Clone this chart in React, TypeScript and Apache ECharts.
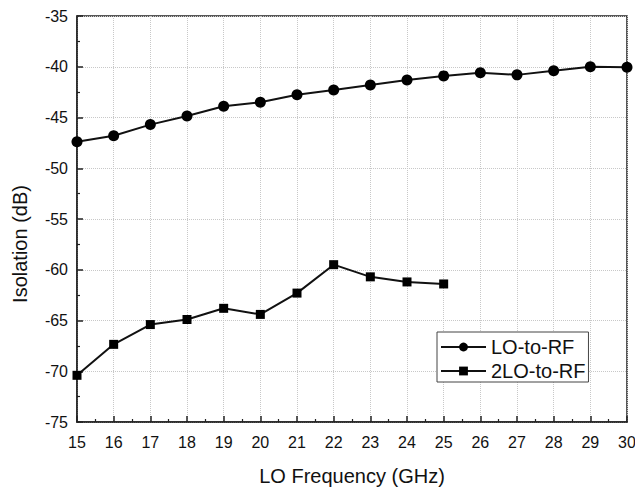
import React, { useEffect, useRef } from "react";
import * as echarts from "echarts";

const freqs = [15, 16, 17, 18, 19, 20, 21, 22, 23, 24, 25, 26, 27, 28, 29, 30];
const loToRf = [-47.4, -46.8, -45.7, -44.85, -43.9, -43.5, -42.75, -42.3, -41.8, -41.3, -40.9, -40.6, -40.8, -40.4, -40.0, -40.05];
const freqs2 = [15, 16, 17, 18, 19, 20, 21, 22, 23, 24, 25];
const twoLoToRf = [-70.4, -67.35, -65.4, -64.9, -63.8, -64.4, -62.3, -59.5, -60.7, -61.2, -61.4];

const FONT = "'Liberation Sans', Arial, sans-serif";

export default function App() {
  const ref = useRef<HTMLDivElement>(null);
  useEffect(() => {
    if (!ref.current) return;
    const chart = echarts.init(ref.current, null, { renderer: "svg" });
    const axisLine = { show: true, lineStyle: { color: "#222", width: 1.5 } };
    chart.setOption({
      animation: false,
      backgroundColor: "#fff",
      textStyle: { fontFamily: FONT },
      grid: {
        left: 77,
        right: 8,
        top: 16,
        bottom: 65,
        containLabel: false,
        outerBoundsMode: "none",
        show: true,
        borderColor: "#222",
        borderWidth: 1.5,
        backgroundColor: "transparent",
      },
      graphic: [
        {
          type: "text",
          x: 10,
          y: 244,
          rotation: Math.PI / 2,
          style: {
            text: "Isolation (dB)",
            font: `20px ${FONT}`,
            fill: "#111",
            align: "center",
            verticalAlign: "top",
          },
        },
      ],
      legend: {
        orient: "vertical",
        left: 437,
        top: 332,
        itemWidth: 45,
        itemHeight: 11,
        itemGap: 4,
        padding: [5, 3, 1, 3],
        borderColor: "#444",
        borderWidth: 1,
        backgroundColor: "#fff",
        textStyle: { fontSize: 20, color: "#111", fontFamily: FONT },
        data: ["LO-to-RF", "2LO-to-RF"],
      },
      xAxis: {
        type: "value",
        min: 15,
        max: 30,
        interval: 1,
        name: "LO Frequency (GHz)",
        nameLocation: "middle",
        nameGap: 44,
        nameTextStyle: { fontSize: 20, color: "#111", fontFamily: FONT },
        axisLine,
        axisTick: { show: true, inside: true, length: 6, lineStyle: { color: "#222", width: 1.5 } },
        minorTick: { show: true, splitNumber: 2, length: 3, lineStyle: { color: "#222", width: 1.2 } },
        axisLabel: { fontSize: 16, color: "#111", margin: 12, fontFamily: FONT },
        splitLine: { show: true, lineStyle: { color: "#c8c8c8", type: "dotted", width: 1 } },
      },
      yAxis: {
        type: "value",
        min: -75,
        max: -35,
        interval: 5,
        axisLine,
        axisTick: { show: true, inside: true, length: 6, lineStyle: { color: "#222", width: 1.5 } },
        minorTick: { show: true, splitNumber: 2, length: 3, lineStyle: { color: "#222", width: 1.2 } },
        axisLabel: { fontSize: 16, color: "#111", margin: 9, fontFamily: FONT },
        splitLine: { show: true, lineStyle: { color: "#c8c8c8", type: "dotted", width: 1 } },
      },
      series: [
        {
          name: "LO-to-RF",
          type: "line",
          data: freqs.map((f, i) => [f, loToRf[i]]),
          symbol: "circle",
          symbolSize: 11,
          itemStyle: { color: "#000" },
          lineStyle: { color: "#111", width: 2 },
          clip: false,
        },
        {
          name: "2LO-to-RF",
          type: "line",
          data: freqs2.map((f, i) => [f, twoLoToRf[i]]),
          symbol: "rect",
          symbolSize: 9,
          itemStyle: { color: "#000" },
          lineStyle: { color: "#111", width: 2 },
          clip: false,
        },
      ],
    });
    return () => chart.dispose();
  }, []);
  return <div ref={ref} style={{ width: 635, height: 487, position: "absolute", left: 0, top: 0 }} />;
}
